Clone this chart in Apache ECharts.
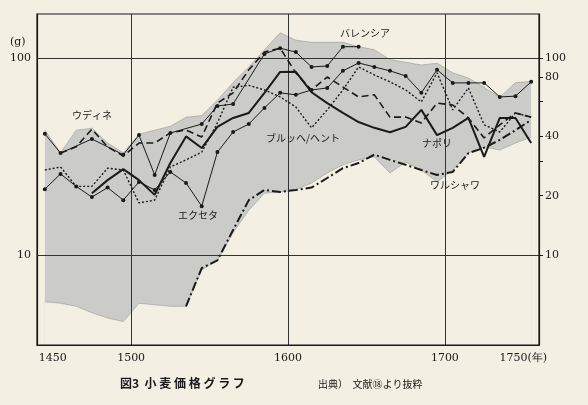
<!DOCTYPE html>
<html><head><meta charset="utf-8">
<script src="https://cdn.jsdelivr.net/npm/echarts@6/dist/echarts.min.js"></script>
<style>html,body{margin:0;background:#f3efe2;}#c{width:588px;height:405px;}</style>
</head><body><div id="c"></div>
<script>
const years = [1445,1455,1465,1475,1485,1495,1505,1515,1525,1535,1545,1555,1565,1575,1585,1595,1605,1615,1625,1635,1645,1655,1665,1675,1685,1695,1705,1715,1725,1735,1745,1755];
const bandTop = [43,33,43,44,37,33,41,43,45,50,51,61,75,90,110,134,123,120,120,120,114,110,98,95,92,94,84,79,71,63,75,76];
const bandBottom = [5.8,5.7,5.5,5.1,4.8,4.6,5.7,5.6,5.5,5.5,8.4,9.4,13,16.9,20.6,20.9,21.4,23.2,26.1,28.7,30.4,31.5,26.1,29.7,27,23.5,27,32.9,35.4,34.1,37,39.6];
const udineValencia = [41.2,32.9,null,38.8,null,32.3,40.6,25.5,41.6,null,46.2,57,58.4,null,104.8,112,107,90,91,114,114,null,null,null,null,null,null,null,null,null,null,null];
const exeter = [21.6,25.8,22.3,19.7,22.0,19.0,23.5,21.4,26.4,23.2,17.7,33.3,42.1,46.2,55.8,66.5,65,68.8,70.4,86,94.3,90,86,81,66.5,87,74.7,74.7,74.7,63.4,64,75.6];
const brugge = [null,null,null,20.6,24,27.3,24,20.2,29.3,40,34.9,44.7,49.6,52.6,66.5,84.9,85,67,59,52.6,47.3,44.2,42,44.7,54.5,40.6,44.2,49.6,31.5,49.6,49.6,37];
const dashed = [null,32.9,35.4,43.5,35.4,31.8,37,37,41.7,43.1,39.7,59,66.5,87,107,112,83.9,68.8,80,null,63.4,65,50.1,50.1,46.8,59,57.7,49.6,39.3,45.8,52.6,50.1];
const dotted = [27,28,22.3,22.3,27.6,27,18.4,19,28,30.4,33.3,46.8,71,72.6,68.8,63.4,56.4,44.2,54.5,68.8,90,82,75.6,68.8,59.8,84,54.5,70.4,45.8,42.1,52.6,50.1];
const warsaw = [null,null,null,null,null,null,null,null,null,5.5,8.6,9.4,13.4,19,21.4,20.9,21.4,22,24.6,27.6,29.3,32.3,30.4,28.7,27,25.5,26.4,32.9,35,38.4,43,48.5];
const xLabels = [1450,1500,1600,1700,1750];
const rightLabels = [10,20,40,80,100];

const pair = a => years.map((y,i)=>[y,a[i]]);
const ink = '#1a1a1a';
const bg = '#f3efe2';
const fontF = '"Noto Sans CJK JP", "DejaVu Serif", serif';
const line = (data, opt) => Object.assign({type:'line', data:pair(data), connectNulls:true, showSymbol:false, silent:true, z:5,
  lineStyle:{color:ink, width:1.2}}, opt);
const chart = echarts.init(document.getElementById('c'));
chart.setOption({
  animation:false,
  backgroundColor:bg,
  grid:{left:37,right:49,top:14,bottom:60},
  xAxis:{type:'value',min:1440,max:1760,
    axisLine:{show:true,onZero:false,lineStyle:{color:ink,width:1.2}},
    axisTick:{show:false}, splitLine:{show:false},
    axisLabel:{customValues:xLabels,color:ink,fontSize:11,fontFamily:'"DejaVu Serif", serif',
      formatter:v=>v===1750?'1750(年)':String(v)}},
  yAxis:[{type:'log',min:3.5,max:167,logBase:10,
    axisLine:{show:true,lineStyle:{color:ink,width:1.2}},axisTick:{show:false},splitLine:{show:false},
    axisLabel:{customValues:[10,100],color:ink,fontSize:11,fontFamily:'"DejaVu Serif", serif',margin:6}},
   {type:'log',min:3.5,max:167,position:'right',
    axisLine:{show:true,lineStyle:{color:ink,width:1.2}},
    axisTick:{show:true,customValues:[10,20,30,40,60,80,100],length:4,lineStyle:{color:ink}},
    splitLine:{show:false},
    axisLabel:{customValues:rightLabels,color:ink,fontSize:11,fontFamily:'"DejaVu Serif", serif',margin:6}}],
  graphic:[
    {type:'rect',shape:{x:37,y:14,width:502,height:331},style:{fill:'none',stroke:ink,lineWidth:1.2},z:10,silent:true},
    {type:'text',left:10,top:37,style:{text:'(g)',fill:ink,font:'11px "DejaVu Serif", serif'}},
    {type:'text',left:72,top:110,style:{text:'ウディネ',fill:ink,font:'10px '+fontF},z:20},
    {type:'text',left:178,top:210,style:{text:'エクセタ',fill:ink,font:'10px '+fontF},z:20},
    {type:'text',left:266,top:133,style:{text:'ブルッヘ/ヘント',fill:ink,font:'10px '+fontF},z:20},
    {type:'text',left:340,top:28,style:{text:'バレンシア',fill:ink,font:'10px '+fontF},z:20},
    {type:'text',left:422,top:138,style:{text:'ナポリ',fill:ink,font:'10px '+fontF},z:20},
    {type:'text',left:430,top:180,style:{text:'ワルシャワ',fill:ink,font:'10px '+fontF},z:20},
    {type:'text',left:120,top:377,style:{text:'図3  小 麦 価 格 グ ラ フ',fill:ink,font:'bold 12px '+fontF}},
    {type:'text',left:318,top:379,style:{text:'出典）  文献⑱より抜粋',fill:ink,font:'10px '+fontF}}
  ],
  series:[
    {type:'line',data:pair(bandTop),showSymbol:false,lineStyle:{width:0.6,color:'#999'},
      areaStyle:{color:'#cbcbc8',opacity:1,origin:'start'},silent:true,z:1},
    {type:'line',data:pair(bandBottom),showSymbol:false,lineStyle:{width:0.6,color:'#999'},
      areaStyle:{color:bg,opacity:1,origin:'start'},silent:true,z:2},
    {type:'line',data:[],z:3,silent:true,
      markLine:{silent:true,symbol:'none',label:{show:false},lineStyle:{color:'#333',width:1,type:'solid'},
        data:[{xAxis:1500},{xAxis:1600},{xAxis:1700},{yAxis:10},{yAxis:100}]}},
    line(udineValencia,{showSymbol:true,symbol:'circle',symbolSize:4,itemStyle:{color:ink},lineStyle:{color:ink,width:1}}),
    line(exeter,{showSymbol:true,symbol:'circle',symbolSize:4,itemStyle:{color:ink},lineStyle:{color:ink,width:1}}),
    line(brugge,{lineStyle:{color:ink,width:2}}),
    line(dashed,{lineStyle:{color:ink,width:1.6,type:[7,4]}}),
    line(dotted,{lineStyle:{color:ink,width:1.4,type:[2,2]}}),
    line(warsaw,{lineStyle:{color:ink,width:2,type:[9,3,2,3]}})
  ]
});
</script></body></html>
